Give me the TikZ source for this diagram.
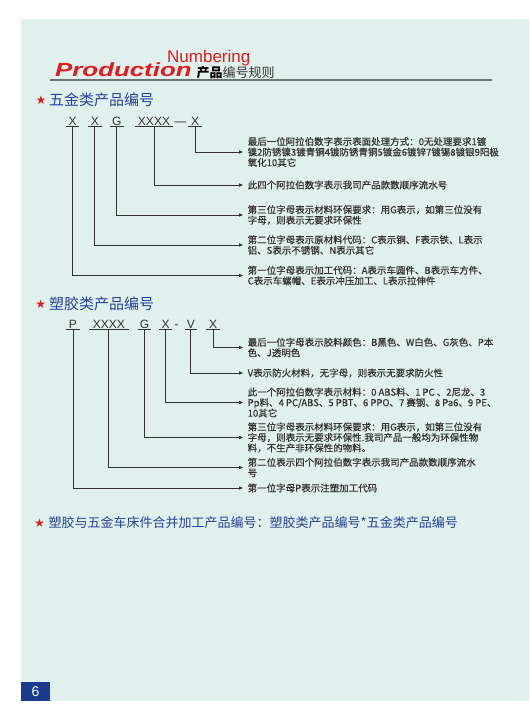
\documentclass[tikz,border=0pt]{standalone}
\usepackage{fontspec,graphicx}
\usetikzlibrary{arrows.meta}
\setmainfont{Liberation Sans}
\newfontfamily\cjk{Noto Sans CJK SC}
\newfontfamily\cjknote[FakeBold=0.5]{Noto Sans CJK SC}
\newfontfamily\starfont{DejaVu Sans}
\definecolor{page}{HTML}{E0F0EC}
\definecolor{ink}{HTML}{333333}
\definecolor{head}{HTML}{27419A}
\definecolor{brand}{HTML}{DC1E23}
\definecolor{bar}{HTML}{6A7471}
\definecolor{tab}{HTML}{1B3C8E}
\newcommand{\note}{\cjknote\fontsize{9.5}{10.5}\selectfont}
\newcommand{\code}{\fontsize{12}{13}\selectfont}

\begin{document}
\begin{tikzpicture}[x=1pt,y=-1pt,
  letter/.style={inner sep=0,text=ink,font=\code,text height=8.5pt,text depth=1.5pt,anchor=base,minimum width=13pt},
  quad/.style={letter,minimum width=38pt},
  uline/.style={ink,line width=0.8pt},
  notebox/.style={anchor=west,inner sep=0,text=ink,font=\note,align=left},
  link/.style={ink,line width=0.8pt,-{Triangle[length=4pt,width=3.2pt]},shorten >=4.5pt},
  starmark/.style={inner sep=0,text=brand,font=\starfont\fontsize{12}{12}\selectfont},
  heading/.style={anchor=west,inner sep=0,text=head,font=\cjk\fontsize{15}{15}\selectfont}]
\useasboundingbox (0,0) rectangle (530,720);
\fill[page] (21,19) rectangle (529,701);

% title bar
\node[anchor=base west,inner sep=0,text=brand,font=\bfseries\itshape\fontsize{19}{20}\selectfont] (prod) at (55,76) {\scalebox{1.36}[1]{Production}};
\node[anchor=base west,inner sep=0,text=brand,font=\fontsize{17}{17}\selectfont] (numb) at (167,62.7) {Numbering};
\node[anchor=base west,inner sep=0,font=\cjk\fontsize{13}{13}\selectfont] (rule) at (196.5,77) {\textcolor{black}{\bfseries 产品}\textcolor{ink}{编号规则}};
\draw[bar,line width=2pt] (50,80) -- (492,80);

% hardware parts
\node[starmark] (s1) at (41,100) {★};
\node[heading] (h1) at (49,100) {五金类产品编号};
\node[letter] (a1) at (72.7,125) {X};
\node[letter] (a2) at (94.8,125) {X};
\node[letter] (a3) at (116.8,125) {G};
\node[quad] (a4) at (154,125) {XXXX};
\node[inner sep=0,text=ink,font=\code,anchor=base] (ad) at (180.3,125) {—};
\node[letter] (a5) at (195,125) {X};
\foreach \n in {a1,a2,a3,a4,a5}
  \draw[uline] (\n.south west) -- (\n.south east);

\node[notebox] (t11) at (247.5,152) {最后一位阿拉伯数字表示表面处理方式：0无处理要求1镀\\镍2防锈镍3镀青铜4镀防锈青铜5镀金6镀锌7镀锡8镀银9阳极\\氧化10其它};
\node[notebox] (t12) at (247.5,185) {此四个阿拉伯数字表示我司产品款数顺序流水号};
\node[notebox] (t13) at (247.5,215) {第三位字母表示材料环保要求：用G表示，如第三位没有\\字母，则表示无要求环保性};
\node[notebox] (t14) at (247.5,245) {第二位字母表示原材料代码：C表示铜、F表示铁、L表示\\铝、S表示不锈钢、N表示其它};
\node[notebox] (t15) at (247.5,275.5) {第一位字母表示加工代码：A表示车圆件、B表示车方件、\\C表示车螺帽、E表示冲压加工、L表示拉伸件};
\draw[link] (a5.south) |- (t11.west);
\draw[link] (a4.south) |- (t12.west);
\draw[link] (a3.south) |- (t13.west);
\draw[link] (a2.south) |- (t14.west);
\draw[link] (a1.south) |- (t15.west);

% plastic parts
\node[starmark] (s2) at (40.7,304) {★};
\node[heading] (h2) at (49,304) {塑胶类产品编号};
\node[letter] (u1) at (73,328) {P};
\node[quad,minimum width=39pt] (u2) at (108.8,328) {XXXX};
\node[letter,minimum width=12.4pt] (u3) at (144.5,328) {G};
\node[letter,minimum width=12.4pt] (u4) at (165.5,328) {X};
\node[inner sep=0,text=ink,font=\code,anchor=base] (ud) at (176.7,328) {-};
\node[letter,minimum width=11.7pt] (u5) at (190.8,328) {V};
\node[letter] (u6) at (213,328) {X};
\foreach \n in {u1,u2,u3,u4,u5,u6}
  \draw[uline] (\n.south west) -- (\n.south east);

\node[notebox] (v1) at (247.5,347.5) {最后一位字母表示胶料颜色：B黑色、W白色、G灰色、P本\\色、J透明色};
\node[notebox] (v2) at (247.5,373) {V表示防火材料，无字母，则表示无要求防火性};
\node[notebox] (v3) at (247.5,402.5) {此一个阿拉伯数字表示材料：0 ABS料、1 PC 、2尼龙、3\\Pp料、4 PC/ABS、5 PBT、6 PPO、7 赛钢、8 Pa6、9 PE、\\10其它};
\node[notebox] (v4) at (247.5,437.5) {第三位字母表示材料环保要求：用G表示，如第三位没有\\字母，则表示无要求环保性.我司产品一般均为环保性物\\料，不生产非环保性的物料。};
\node[notebox] (v5) at (247.5,467.5) {第二位表示四个阿拉伯数字表示我司产品款数顺序流水\\号};
\node[notebox] (v6) at (247.5,488) {第一位字母P表示注塑加工代码};
\draw[link] (u6.south) |- (v1.west);
\draw[link] (u5.south) |- (v2.west);
\draw[link] (u4.south) |- (v3.west);
\draw[link] (u3.south) |- (v4.west);
\draw[link] (u2.south) |- (v5.west);
\draw[link] (u1.south) |- (v6.west);

% combined parts
\node[starmark] (s3) at (39.5,522.7) {★};
\node[heading,font=\cjk\fontsize{13}{13}\selectfont] (h3) at (48.5,522.7) {塑胶与五金车床件合并加工产品编号：塑胶类产品编号*五金类产品编号};

% page number
\node[fill=tab,text=white,inner sep=0,minimum width=29pt,minimum height=19pt,font=\fontsize{14}{14}\selectfont] (pg) at (35.5,691.5) {6};
\end{tikzpicture}
\end{document}
